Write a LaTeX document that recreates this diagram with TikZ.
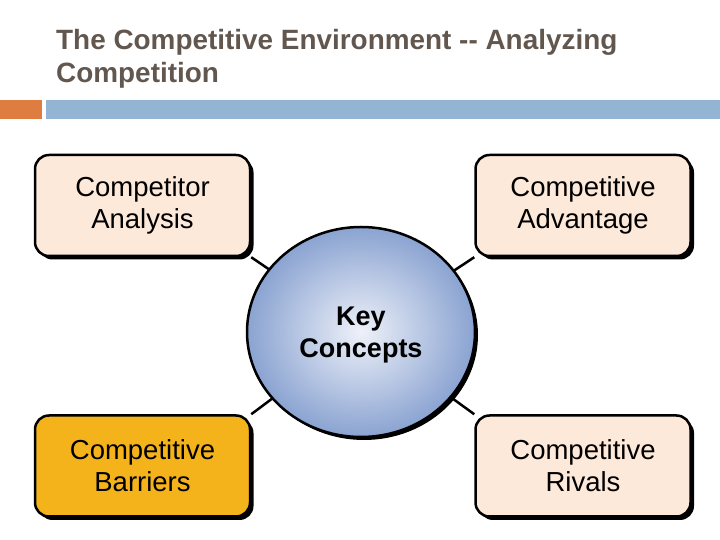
\documentclass[tikz,border=0pt]{standalone}
\usepackage{fontspec}
\setmainfont{Liberation Sans}
\usetikzlibrary{positioning, shapes.geometric, shadows, backgrounds}
\definecolor{titleGrey}{HTML}{62574F}
\definecolor{barOrange}{HTML}{DF7D40}
\definecolor{barBlue}{HTML}{93B5D3}
\definecolor{boxPeach}{HTML}{FDE9D9}
\definecolor{boxGold}{HTML}{F5B31B}
\definecolor{keyBlue}{HTML}{8AA3D1}
\definecolor{keyCore}{HTML}{EEF1F9}
\tikzstyle{conceptBox} = [draw, rectangle, rounded corners=14pt,
   line width=2.5pt, fill=boxPeach, align=center,
   font=\fontsize{27.5}{32}\selectfont,
   drop shadow={shadow xshift=3.5pt, shadow yshift=-3.5pt, fill=black, opacity=1}]
\tikzstyle{spoke} = [line width=2.5pt]

\begin{document}
\begin{tikzpicture}[
  x=1pt, y=1pt,
  minimum width=215pt,
  minimum height=101pt,
  ]
  \useasboundingbox (0,0) rectangle (720,540);
  \node[anchor=base west, align=left, text=titleGrey, inner sep=0pt,
        font=\fontsize{27.9}{33}\selectfont\bfseries,
        minimum width=0pt, minimum height=0pt] (title) at (56,457)
        {The Competitive Environment -{}- Analyzing\\Competition};
  \fill[barOrange] (0,421) rectangle (42,440);
  \fill[barBlue] (46,421) rectangle (720,440);
  \node[conceptBox] (analysis) at (142.5,334.5) {Competitor\\Analysis};
  \node[conceptBox, right = 223pt of analysis] (advantage) {Competitive\\Advantage};
  \node[conceptBox, below = 157pt of analysis, fill=boxGold] (barriers) {Competitive\\Barriers};
  \node[conceptBox, below = 157pt of advantage] (rivals) {Competitive\\Rivals};
  \node[draw, ellipse, line width=2.5pt, minimum width=228pt, minimum height=210pt,
        shading=radial, inner color=keyCore, outer color=keyBlue,
        font=\fontsize{27}{32}\selectfont\bfseries, align=center, text depth=0pt,
        drop shadow={shadow xshift=3pt, shadow yshift=-3pt, fill=black, opacity=1}]
        (key) at (361,208) {Key\\Concepts};
  \begin{scope}[on background layer]
    \draw[spoke] (analysis.south east) -- (key.center);
    \draw[spoke] (advantage.south west) -- (key.center);
    \draw[spoke] (barriers.north east) -- (key.center);
    \draw[spoke] (rivals.north west) -- (key.center);
  \end{scope}
\end{tikzpicture}
\end{document}
